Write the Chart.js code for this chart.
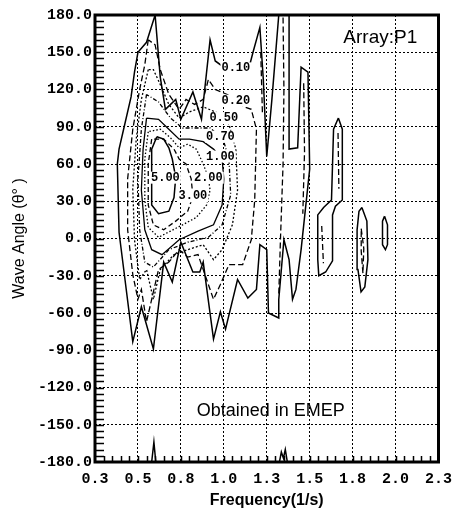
<!DOCTYPE html>
<html lang="en">
<head>
<meta charset="UTF-8" />
<title>Array P1 - Wave Angle</title>
<script src="https://cdn.jsdelivr.net/npm/chart.js@4.4.0/dist/chart.umd.min.js"></script>
<style>
  body { margin: 0; padding: 0; background: #fff; }
  .container { width: 460px; height: 512px; }
</style>
</head>
<body>
<div class="container"><canvas id="waveAngle"></canvas></div>
<script>
// axis ticks
const xTickLabels = ['0.3', '0.5', '0.8', '1.0', '1.3', '1.5', '1.8', '2.0', '2.3'];
const yTickLabels = ['-180.0', '-150.0', '-120.0', '-90.0', '-60.0', '-30.0', '0.0',
  '30.0', '60.0', '90.0', '120.0', '150.0', '180.0'];

// contour lines, [frequency, angle] pairs, one array per piece
const level010 = [
  [[0.60,180],[0.63,130],[0.66,104],[0.72,112],[0.75,96],[0.82,118],[0.87,96],[0.92,160],
   [0.95,143],[1.01,137],[1.07,137],[1.14,134],[1.17,150],[1.21,170],[1.23,128],[1.25,66],
   [1.28,112],[1.32,180],[1.38,180],[1.38,72],[1.43,73],[1.45,138],[1.49,134],[1.50,56],
   [1.45,-9],[1.42,-41],[1.40,-49],[1.38,-17],[1.35,-1],[1.32,-49],[1.32,-64],[1.26,-60],
   [1.25,-9],[1.21,-5],[1.19,-41],[1.14,-48],[1.08,-33],[1.01,-73],[0.98,-59],[0.94,-81],
   [0.88,-19],[0.86,-27],[0.82,-27],[0.75,-3],[0.70,-35],[0.65,-19],[0.59,-89],[0.52,-55],
   [0.47,-83],[0.42,-28],[0.39,5],[0.38,60],[0.39,72],[0.42,90],[0.46,114],[0.48,134],
   [0.50,150],[0.55,158],[0.60,180]],
  [[0.58,-180],[0.593,-164],[0.604,-180]],
  [[1.324,-180],[1.335,-172],[1.347,-177],[1.358,-170],[1.37,-180]],
  [[1.667,97],[1.69,88],[1.69,31],[1.65,26],[1.633,19],[1.633,-18],[1.593,-27],[1.553,-30],
   [1.547,-17],[1.547,19],[1.581,25],[1.627,31],[1.639,88],[1.667,97]],
  [[1.804,25],[1.833,14],[1.839,-17],[1.821,-39],[1.799,-43],[1.781,-25],[1.776,7],[1.787,22],[1.804,25]],
  [[1.936,18],[1.953,11],[1.953,-5],[1.941,-9],[1.924,-5],[1.924,14],[1.936,18]]
];
const level020 = [
  [[0.56,160],[0.54,140],[0.51,120],[0.47,88],[0.44,48],[0.44,7],[0.47,-29],[0.50,-49],
   [0.52,-41],[0.55,-67],[0.58,-49],[0.62,-25],[0.68,-19],[0.74,-9],[0.79,-15],[0.85,-13],
   [0.94,-49],[0.98,-37],[1.03,-21],[1.11,-21],[1.16,-1],[1.18,31],[1.19,88],[1.16,104],
   [1.12,106],[1.07,111],[1.02,116],[0.95,120],[0.91,128],[0.88,112],[0.83,108],[0.78,112],
   [0.74,104],[0.68,116],[0.63,136],[0.60,156],[0.56,160]],
  [[1.345,178],[1.35,120],[1.345,60],[1.33,0],[1.32,-45]],
  [[1.465,125],[1.47,70],[1.46,20]],
  [[1.215,150],[1.225,100]],
  [[1.665,85],[1.67,40]],
  [[1.57,10],[1.58,-20]],
  [[1.80,8],[1.815,-8],[1.81,-28],[1.80,-10],[1.80,8]]
];
const level050 = [
  [[0.56,136],[0.52,112],[0.49,80],[0.47,40],[0.48,-1],[0.51,-33],[0.55,-25],[0.59,-49],
   [0.63,-25],[0.71,-13],[0.79,-9],[0.88,-5],[0.94,-17],[0.99,-9],[1.05,11],[1.08,39],
   [1.07,72],[1.03,92],[1.00,97],[0.95,102],[0.88,106],[0.80,102],[0.74,97],[0.68,108],
   [0.63,124],[0.59,136],[0.56,136]]
];
const level070 = [
  [[0.55,116],[0.52,88],[0.50,48],[0.51,7],[0.54,-19],[0.59,-23],[0.68,-9],[0.79,-3],
   [0.91,1],[0.99,11],[1.04,35],[1.03,64],[1.00,78],[0.98,82],[0.92,89],[0.84,89],
   [0.76,89],[0.69,97],[0.62,110],[0.55,116]]
];
const level100 = [
  [[0.55,97],[0.53,72],[0.52,39],[0.54,7],[0.58,-9],[0.64,-13],[0.74,-1],[0.85,6],
   [0.94,11],[0.99,27],[1.00,48],[0.99,64],[0.98,66],[0.94,72],[0.88,78],[0.80,80],
   [0.74,80],[0.68,88],[0.62,96],[0.55,97]]
];
const level200 = [
  [[0.56,86],[0.54,64],[0.54,31],[0.56,9],[0.62,1],[0.69,6],[0.76,11],[0.84,17],
   [0.90,27],[0.92,39],[0.91,49],[0.88,60],[0.84,72],[0.79,76],[0.74,73],[0.69,81],
   [0.63,88],[0.56,86]]
];
const level300 = [
  [[0.58,80],[0.56,60],[0.56,27],[0.59,11],[0.65,7],[0.72,14],[0.79,22],[0.82,34],
   [0.81,48],[0.78,60],[0.74,64],[0.71,72],[0.65,80],[0.58,80]]
];
const level500 = [
  [[0.61,82],[0.58,72],[0.58,49],[0.58,27],[0.62,20],[0.68,22],[0.71,33],[0.72,49],
   [0.70,64],[0.68,73],[0.65,80],[0.61,82]]
];

// contour labels and where they sit
const contourLabels = ['0.10', '0.20', '0.50', '0.70', '1.00', '2.00', '3.00', '5.00'];
const labelFreq = [1.07, 1.07, 1.00, 0.98, 0.98, 0.91, 0.82, 0.66];
const labelAngle = [137, 111, 97, 82, 66, 49, 34, 49];

const levels = [
  { pieces: level010, dash: [], width: 1.5 },
  { pieces: level020, dash: [6, 3], width: 1.3 },
  { pieces: level050, dash: [2, 2], width: 1.3 },
  { pieces: level070, dash: [4, 2, 1, 2], width: 1.3 },
  { pieces: level100, dash: [], width: 1.3 },
  { pieces: level200, dash: [1.5, 2], width: 1.3 },
  { pieces: level300, dash: [5, 3], width: 1.3 },
  { pieces: level500, dash: [], width: 1.5 }
];

const datasets = [];
levels.forEach((lv) => {
  lv.pieces.forEach((piece) => {
    datasets.push({
      data: piece.map((p) => ({ x: p[0], y: p[1] })),
      showLine: true,
      pointRadius: 0,
      borderColor: '#000',
      borderWidth: lv.width,
      borderDash: lv.dash,
      fill: false,
      tension: 0
    });
  });
});

const overlay = {
  id: 'overlay',
  afterDatasetsDraw(chart) {
    const { ctx, scales: { x, y } } = chart;
    ctx.save();
    ctx.font = 'bold 12px "Liberation Mono"';
    ctx.textAlign = 'center';
    ctx.textBaseline = 'middle';
    contourLabels.forEach((t, i) => {
      const px = x.getPixelForValue(labelFreq[i]);
      const py = y.getPixelForValue(labelAngle[i]);
      const w = ctx.measureText(t).width;
      ctx.fillStyle = '#fff';
      ctx.fillRect(px - w / 2 - 1, py - 6, w + 2, 12);
      ctx.fillStyle = '#000';
      ctx.fillText(t, px, py);
    });
    ctx.restore();
  },
  afterDraw(chart) {
    const { ctx, chartArea: a, scales: { x, y } } = chart;
    ctx.save();
    ctx.strokeStyle = '#000';
    // minor ticks, pointing inward
    ctx.lineWidth = 1.5;
    ctx.beginPath();
    for (let v = -175; v < 180; v += 5) {
      const py = Math.round(y.getPixelForValue(v)) + 0.5;
      ctx.moveTo(a.left, py);
      ctx.lineTo(a.left + 9, py);
    }
    for (let k = 6; k < 45; k++) {
      const px = Math.round(x.getPixelForValue(k * 0.05)) + 0.5;
      ctx.moveTo(px, a.bottom);
      ctx.lineTo(px, a.bottom - 6);
    }
    ctx.stroke();
    // frame
    ctx.lineWidth = 3;
    ctx.strokeRect(a.left, a.top, a.right - a.left, a.bottom - a.top);
    // notes
    ctx.fillStyle = '#000';
    ctx.textBaseline = 'alphabetic';
    ctx.textAlign = 'left';
    ctx.font = '19px "Liberation Sans"';
    ctx.fillText('Array:P1', x.getPixelForValue(1.696), y.getPixelForValue(157.8));
    ctx.textAlign = 'center';
    ctx.font = '18px "Liberation Sans"';
    ctx.fillText('Obtained in EMEP', x.getPixelForValue(1.273), y.getPixelForValue(-143));
    ctx.restore();
  }
};

const tickFont = { family: 'Liberation Mono', size: 15, weight: 'bold' };

new Chart(document.getElementById('waveAngle'), {
  type: 'scatter',
  data: { datasets },
  options: {
    responsive: true,
    maintainAspectRatio: false,
    animation: false,
    layout: { padding: { left: 0, right: 15, top: 15, bottom: 0 } },
    plugins: { legend: { display: false }, tooltip: { enabled: false } },
    scales: {
      x: {
        type: 'linear',
        min: 0.25,
        max: 2.25,
        afterFit: (s) => { s.height = 50; },
        ticks: {
          stepSize: 0.25,
          autoSkip: false,
          maxRotation: 0,
          padding: 8,
          color: '#000',
          font: tickFont,
          callback: (v, i) => xTickLabels[i]
        },
        grid: { color: '#000', lineWidth: 1, drawTicks: false },
        border: { display: false, dash: [2, 2] },
        title: {
          display: true,
          text: 'Frequency(1/s)',
          color: '#000',
          font: { family: 'Liberation Sans', size: 16, weight: 'bold' },
          padding: { top: 0, bottom: 2 }
        }
      },
      y: {
        type: 'linear',
        min: -180,
        max: 180,
        afterFit: (s) => { s.width = 95; },
        ticks: {
          stepSize: 30,
          autoSkip: false,
          padding: 3,
          color: '#000',
          font: tickFont,
          callback: (v, i) => yTickLabels[i]
        },
        grid: { color: '#000', lineWidth: 1, drawTicks: false },
        border: { display: false, dash: [2, 2] },
        title: {
          display: true,
          text: 'Wave Angle (θ° )',
          color: '#000',
          font: { family: 'Liberation Sans', size: 16 },
          padding: { top: 10, bottom: 0 }
        }
      }
    }
  },
  plugins: [overlay]
});
</script>
</body>
</html>
